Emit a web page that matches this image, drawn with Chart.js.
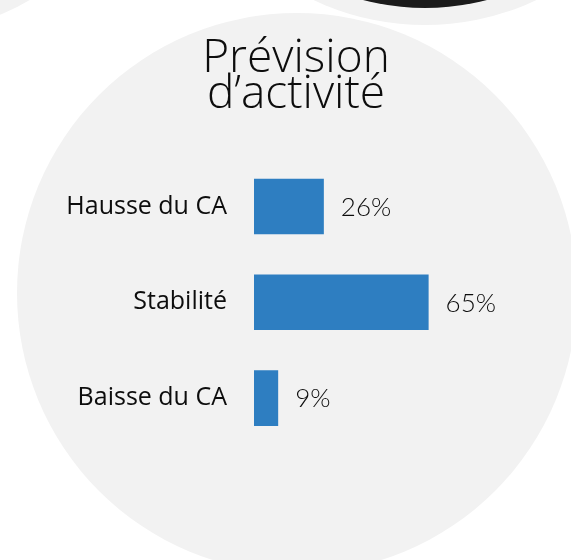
<!DOCTYPE html>
<html>
<head>
<meta charset="utf-8">
<script src="https://cdn.jsdelivr.net/npm/chart.js@4/dist/chart.umd.min.js"></script>
<style>
  html, body { margin: 0; padding: 0; background: #ffffff; }
  #wrap { position: relative; width: 571px; height: 560px; overflow: hidden; background: #ffffff; }
  .circ { position: absolute; border-radius: 50%; }
  #c { position: absolute; left: 0; top: 0; }
</style>
</head>
<body>
<div id="wrap">
  <div class="circ" style="left:-274px; top:-371px; width:400px; height:400px; background:#f2f2f2;"></div>
  <div class="circ" style="left:164px; top:-497px; width:522px; height:522px; background:#f2f2f2;"></div>
  <div class="circ" style="left:181px; top:-480px; width:488px; height:488px; background:#1b1b1b;"></div>
  <div class="circ" style="left:17px; top:13px; width:560px; height:560px; background:#f2f2f2;"></div>
  <canvas id="c" width="571" height="560"></canvas>
</div>
<script>
const titleLines = ['Prévision', 'd\u2019activité'];
const categories = ['Hausse du CA', 'Stabilité', 'Baisse du CA'];
const values = [26, 65, 9];
const valueSuffix = '%';

const valueLabels = {
  id: 'valueLabels',
  afterDatasetsDraw(chart) {
    const ctx = chart.ctx;
    const meta = chart.getDatasetMeta(0);
    ctx.save();
    ctx.font = '300 26px Lato, "Open Sans", sans-serif';
    ctx.fillStyle = '#0d0d0d';
    ctx.textAlign = 'left';
    ctx.textBaseline = 'middle';
    meta.data.forEach((bar, i) => {
      ctx.fillText(values[i] + valueSuffix, bar.x + 17, bar.y + 1);
    });
    ctx.restore();
  }
};

new Chart(document.getElementById('c'), {
  type: 'bar',
  data: {
    labels: categories,
    datasets: [{
      data: values,
      backgroundColor: '#2e7ec1',
      borderWidth: 0,
      categoryPercentage: 1,
      barPercentage: 0.58
    }]
  },
  options: {
    indexAxis: 'y',
    responsive: false,
    animation: false,
    layout: { padding: { left: 21, right: 0, top: 40, bottom: 114 } },
    plugins: {
      legend: { display: false },
      tooltip: { enabled: false },
      title: {
        display: true,
        text: titleLines,
        color: '#0d0d0d',
        font: { family: '"Open Sans", sans-serif', size: 46, weight: 300, lineHeight: 0.8 },
        padding: { top: 0, bottom: 45 }
      }
    },
    scales: {
      x: { display: false, min: 0, max: 118 },
      y: {
        afterFit(scale) { scale.width = 233; },
        grid: { display: false, drawTicks: false },
        border: { display: false },
        ticks: {
          padding: 27,
          color: '#0d0d0d',
          font: { family: '"Open Sans", sans-serif', size: 25 }
        }
      }
    }
  },
  plugins: [valueLabels]
});
</script>
</body>
</html>
